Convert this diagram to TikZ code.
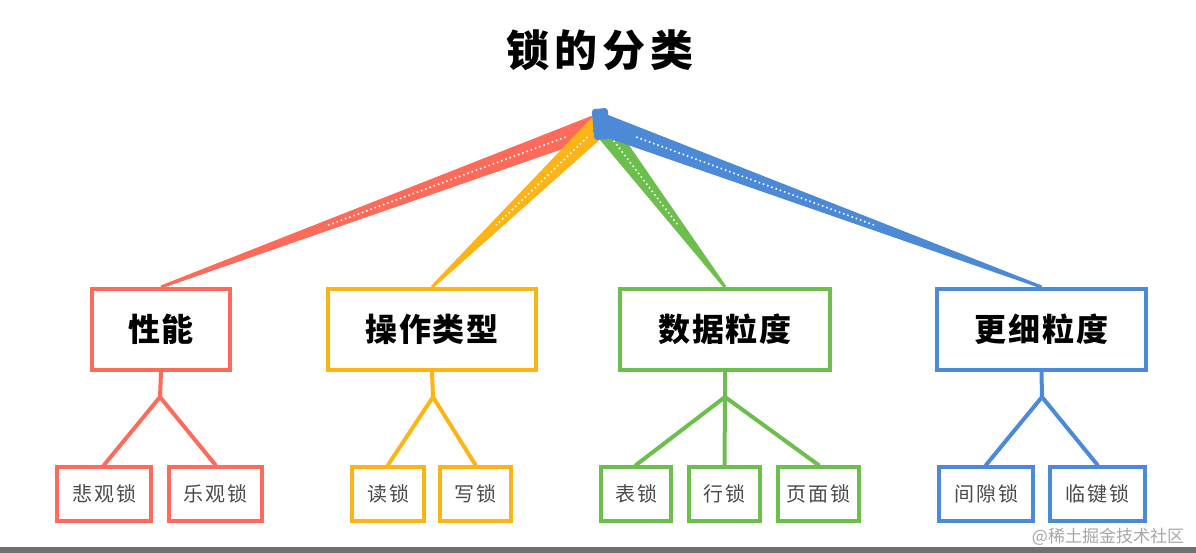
\documentclass[tikz,border=0pt]{standalone}
\usepackage{fontspec}
\newfontfamily\cjk{Noto Sans CJK SC}
\usetikzlibrary{calc}

\definecolor{lockred}{HTML}{FF6B5B}
\definecolor{lockyellow}{HTML}{FDB417}
\definecolor{lockgreen}{HTML}{6CBF4C}
\definecolor{lockblue}{HTML}{4C8AD8}
\definecolor{leaftext}{HTML}{4A4A4A}
\definecolor{bandgray}{HTML}{707070}

\tikzset{
  catbox/.style={draw=#1, line width=4pt, minimum height=81pt, inner sep=0pt,
    font=\cjk\bfseries\fontsize{32}{32}\selectfont\addfontfeature{LetterSpace=6}},
  leafbox/.style={draw=#1, line width=4pt, minimum height=54pt, inner sep=0pt, text=leaftext,
    font=\cjk\fontsize{20}{20}\selectfont\addfontfeature{LetterSpace=10}},
  branch/.style={draw=#1, line width=4pt, line cap=round, line join=round},
}

\begin{document}
\begin{tikzpicture}[x=1pt,y=1pt]
  \useasboundingbox (0,0) rectangle (1196,-553);

  % title
  \node[font=\cjk\bfseries\fontsize{43}{43}\selectfont\addfontfeature{LetterSpace=12}] (title) at (600,-50) {锁的分类};
  \coordinate (hubpt) at (601,-124);

  % categories
  \node[catbox=lockred, minimum width=138pt] (perf) at (161,-329.5) {性能};
  \node[catbox=lockyellow, minimum width=208pt] (optype) at (432,-329.5) {操作类型};
  \node[catbox=lockgreen, minimum width=210pt] (datagran) at (725,-329.5) {数据粒度};
  \node[catbox=lockblue, minimum width=209pt] (finegran) at (1041.5,-329.5) {更细粒度};

  % wedges from the hub
  \foreach \cat/\col in {perf/lockred, optype/lockyellow, datagran/lockgreen, finegran/lockblue} {
    \fill[\col] ($(hubpt)!11pt!90:(\cat.north)$) -- ($(\cat.north)!1.5pt!-90:(hubpt)$)
      -- ($(\cat.north)!1.5pt!90:(hubpt)$) -- ($(hubpt)!11pt!-90:(\cat.north)$) -- cycle;
    \draw[white, line width=1.6pt, dash pattern=on 1.5pt off 3pt] ($(hubpt)!0.08!(\cat.north)$) -- ($(hubpt)!0.62!(\cat.north)$);
  }
  \node[fill=lockblue, rounded corners=3pt, minimum width=16pt, minimum height=31pt, inner sep=0pt, rotate=5] (hub) at (hubpt) {};

  % leaves
  \node[leafbox=lockred, minimum width=94pt] (pess) at (104,-494) {悲观锁};
  \node[leafbox=lockred, minimum width=93pt] (opt) at (215.5,-494) {乐观锁};
  \node[leafbox=lockyellow, minimum width=72pt] (rd) at (388,-494) {读锁};
  \node[leafbox=lockyellow, minimum width=71pt] (wr) at (475.5,-494) {写锁};
  \node[leafbox=lockgreen, minimum width=70pt] (tbl) at (636,-494) {表锁};
  \node[leafbox=lockgreen, minimum width=71pt] (row) at (724.5,-494) {行锁};
  \node[leafbox=lockgreen, minimum width=81pt] (page) at (818.5,-494) {页面锁};
  \node[leafbox=lockblue, minimum width=94pt] (gap) at (986,-494) {间隙锁};
  \node[leafbox=lockblue, minimum width=95pt] (nextkey) at (1097.5,-494) {临键锁};

  % branches
  \coordinate (jperf) at (160,-397);
  \coordinate (joptype) at (433,-397);
  \coordinate (jdatagran) at (725,-397);
  \coordinate (jfinegran) at (1042,-397);
  \draw[branch=lockred] (perf.south) -- (jperf) (pess.north) -- (jperf) -- (opt.north);
  \draw[branch=lockyellow] (optype.south) -- (joptype) (rd.north) -- (joptype) -- (wr.north);
  \draw[branch=lockgreen] (datagran.south) -- (jdatagran) (tbl.north) -- (jdatagran) -- (page.north)
    (jdatagran) -- (row.north);
  \draw[branch=lockblue] (finegran.south) -- (jfinegran) (gap.north) -- (jfinegran) -- (nextkey.north);

  % watermark and window edge
  \node[text=black!35, font=\cjk\fontsize{17}{17}\selectfont] (mark) at (1108,-537) {@稀土掘金技术社区};
  \fill[bandgray] (0,-547) rectangle (1196,-553);
\end{tikzpicture}
\end{document}
